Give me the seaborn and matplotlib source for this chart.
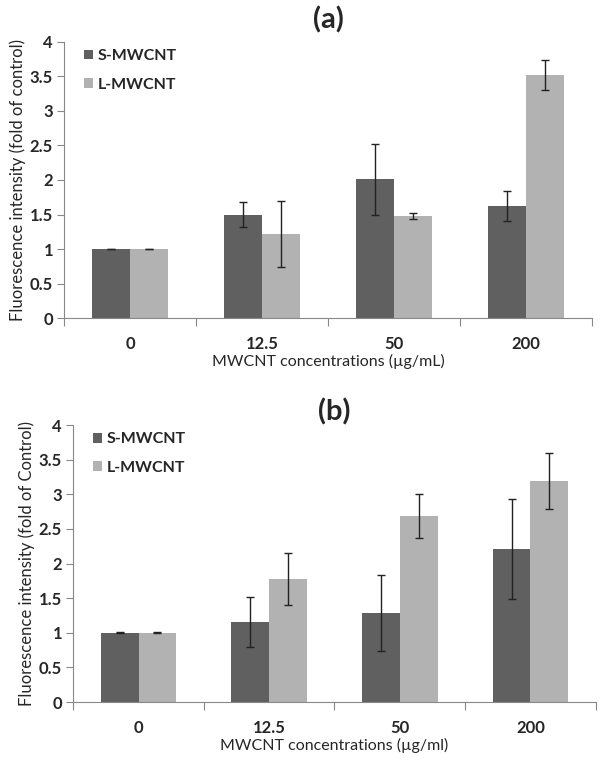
import matplotlib
matplotlib.use("Agg")
import matplotlib.pyplot as plt
import seaborn as sns
import pandas as pd
import numpy as np
from matplotlib.ticker import FormatStrFormatter, MultipleLocator, FixedLocator

# ---- data ----
concentrations = ["0", "12.5", "50", "200"]
series = ["S-MWCNT", "L-MWCNT"]

a_s_values = [1.0, 1.50, 2.01, 1.62]
a_s_errors = [0.005, 0.175, 0.51, 0.215]
a_l_values = [1.0, 1.22, 1.48, 3.52]
a_l_errors = [0.005, 0.475, 0.04, 0.215]

b_s_values = [1.0, 1.16, 1.285, 2.21]
b_s_errors = [0.005, 0.36, 0.555, 0.72]
b_l_values = [1.0, 1.776, 2.686, 3.19]
b_l_errors = [0.005, 0.37, 0.315, 0.40]

y_ticks = [0, 0.5, 1, 1.5, 2, 2.5, 3, 3.5, 4]

sns.set_theme(style="white")
plt.rcParams["font.family"] = ["Lato", "DejaVu Sans"]

palette = {"S-MWCNT": "#606060", "L-MWCNT": "#b2b2b2"}

fig = plt.figure(figsize=(6.0, 7.61), dpi=100)


def panel(rect, s_vals, s_err, l_vals, l_err, title, xlabel, ylabel, title_y, leg_x):
    ax = fig.add_axes(rect)
    df = pd.DataFrame({
        "conc": concentrations * 2,
        "series": [series[0]] * 4 + [series[1]] * 4,
        "value": list(s_vals) + list(l_vals),
    })
    sns.barplot(data=df, x="conc", y="value", hue="series", order=concentrations,
                hue_order=series, palette=palette, width=0.58, gap=0,
                errorbar=None, saturation=1, ax=ax, linewidth=0)
    errs = [s_err, l_err]
    vals = [s_vals, l_vals]
    bar_conts = list(ax.containers)
    for k, cont in enumerate(bar_conts):
        xs = [p.get_x() + p.get_width() / 2 for p in cont.patches]
        ax.errorbar(xs, vals[k], yerr=errs[k], fmt="none", ecolor="#222222",
                    elinewidth=1.0, capsize=3, capthick=1.0, zorder=5)
    ax.set_ylim(0, 4)
    ax.set_xlim(-0.5, 3.5)
    ax.yaxis.set_major_locator(FixedLocator(y_ticks))
    ax.yaxis.set_major_formatter(FormatStrFormatter("%g"))
    ax.xaxis.set_minor_locator(FixedLocator([-0.5, 0.5, 1.5, 2.5, 3.5]))
    ax.tick_params(axis="x", which="major", length=0, pad=13, labelsize=12)
    ax.tick_params(axis="x", which="minor", length=6, width=0.8, color="#888888", direction="out", bottom=True)
    ax.tick_params(axis="y", which="major", length=5, width=0.8, color="#888888", direction="out", left=True, labelsize=12, pad=3)
    for lab in ax.get_xticklabels() + ax.get_yticklabels():
        lab.set_fontweight("bold")
    for side in ["top", "right"]:
        ax.spines[side].set_visible(False)
    for side in ["left", "bottom"]:
        ax.spines[side].set_color("#888888")
        ax.spines[side].set_linewidth(0.8)
    ax.set_xlabel(xlabel, fontsize=11.5, labelpad=1)
    ax.set_ylabel(ylabel, fontsize=12, labelpad=3)
    handles, labels = ax.get_legend_handles_labels()
    ax.legend(handles, labels, loc="upper left", bbox_to_anchor=(leg_x, 1.025), frameon=False,
              handlelength=0.55, handleheight=0.55, handletextpad=0.3, labelspacing=0.9,
              prop={"weight": "bold", "size": 11.5})
    fig.text(rect[0] + rect[2] * 0.5, title_y, title, ha="center", va="center",
             fontsize=21, fontweight="bold")
    return ax


panel([0.107, 0.582, 0.880, 0.363], a_s_values, a_s_errors, a_l_values, a_l_errors,
      "(a)", "MWCNT concentrations (\u00b5g/mL)", "Fluorescence intensity (fold of control)",
      1 - 20 / 761, 0.01)
panel([0.122, 0.0775, 0.871, 0.364], b_s_values, b_s_errors, b_l_values, b_l_errors,
      "(b)", "MWCNT concentrations (\u00b5g/ml)", "Fluorescence intensity (fold of Control)",
      1 - 412 / 761, 0.01)

fig.savefig("out.png", dpi=100)
